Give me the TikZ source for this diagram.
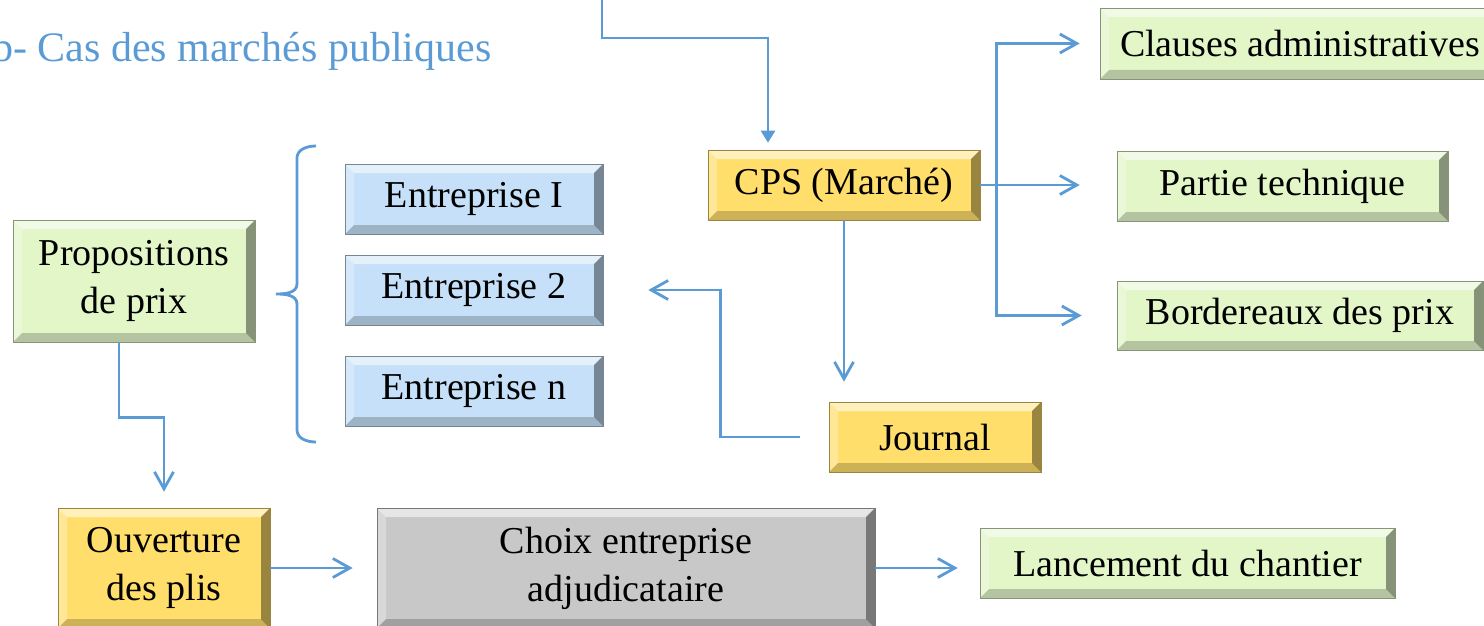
\documentclass[tikz,border=0pt]{standalone}
\usepackage{fontspec}
\setmainfont{Liberation Serif}
\usepackage{xcolor}
\usepackage{tikz}
\usetikzlibrary{arrows.meta}

\definecolor{lienbleu}{RGB}{91,155,213}
\definecolor{vertclair}{RGB}{226,246,200}
\definecolor{bleuclair}{RGB}{197,224,248}
\definecolor{jaune}{RGB}{255,222,108}
\definecolor{gris}{RGB}{200,200,200}

\begin{document}
\begin{tikzpicture}[x = 1pt, y = -1pt,
	lien/.style = {draw = lienbleu, line width = 2.8pt},
	fleche/.style = {lien, -{Straight Barb[length = 17pt, width = 19pt]}},
	boite/.style = {fill = #1, draw = #1!60!black, line width = 0.6pt, align = center, inner sep = 0pt,
		font = \fontsize{38}{48}\selectfont,
		path picture = {
			\fill[white, opacity = 0.55] (path picture bounding box.north west) -- (path picture bounding box.north east)
				-- ([shift = {(-9,9)}]path picture bounding box.north east) -- ([shift = {(9,9)}]path picture bounding box.north west) -- cycle;
			\fill[white, opacity = 0.3] (path picture bounding box.north west) -- ([shift = {(9,9)}]path picture bounding box.north west)
				-- ([shift = {(9,-9)}]path picture bounding box.south west) -- (path picture bounding box.south west) -- cycle;
			\fill[black, opacity = 0.4] (path picture bounding box.north east) -- (path picture bounding box.south east)
				-- ([shift = {(-9,-9)}]path picture bounding box.south east) -- ([shift = {(-9,9)}]path picture bounding box.north east) -- cycle;
			\fill[black, opacity = 0.2] (path picture bounding box.south west) -- (path picture bounding box.south east)
				-- ([shift = {(-9,-9)}]path picture bounding box.south east) -- ([shift = {(9,-9)}]path picture bounding box.south west) -- cycle;}}]
	\useasboundingbox (0,0) rectangle (1484,626);
	\clip (0,0) rectangle (1484,626);

	\node[anchor = base west, text = lienbleu, font = \fontsize{42}{48}\selectfont, inner sep = 0pt] (titre) at (-8,62) {b- Cas des marchés publiques};

	\node[boite = jaune, minimum width = 272pt, minimum height = 70pt] (cps) at (844,185) {CPS (Marché)};
	\node[boite = vertclair, minimum width = 400pt, minimum height = 71pt] (clauses) at (1300,43.5) {Clauses administratives};
	\node[boite = vertclair, minimum width = 331pt, minimum height = 70pt] (partie) at (1282.5,186) {Partie technique};
	\node[boite = vertclair, minimum width = 366pt, minimum height = 69pt] (bordereaux) at (1300,315.5) {Bordereaux des prix};
	\node[boite = jaune, minimum width = 212pt, minimum height = 70pt] (journal) at (935,437) {Journal};
	\foreach \y/\nom/\txt in {199/e1/Entreprise I, 290/e2/Entreprise 2, 391/en/Entreprise n}{
		\node[boite = bleuclair, minimum width = 258pt, minimum height = 70pt] (\nom) at (474,\y) {\txt};}
	\node[boite = vertclair, minimum width = 242pt, minimum height = 122pt] (prop) at (134,281) {Propositions\\de prix};
	\node[boite = jaune, minimum width = 212pt, minimum height = 120pt] (ouv) at (164,568) {Ouverture\\des plis};
	\node[boite = gris, minimum width = 498pt, minimum height = 120pt] (choix) at (626,568) {Choix entreprise\\adjudicataire};
	\node[boite = vertclair, minimum width = 415pt, minimum height = 70pt] (lanc) at (1187.5,563) {Lancement du chantier};

	\coordinate (entree) at (602,-5);
	\draw[lien, -{Triangle[length = 12pt, width = 14pt]}, shorten >= 7pt] (entree) -- (602,38) -| ([xshift = -76pt]cps.north);
	\draw[fleche, shorten >= 37pt] (cps.east) -- (cps.east -| partie.west);
	\draw[fleche, shorten >= 20pt] ([xshift = 16pt]cps.east) |- (clauses.west);
	\draw[fleche, shorten >= 35pt] ([xshift = 16pt]cps.east) |- (bordereaux.west);
	\draw[fleche, shorten >= 20pt] (cps.south) -- (cps.south |- journal.north);
	\draw[fleche, shorten >= 45pt] ([xshift = -29pt]journal.west) -- ++(-79,0) |- (e2.east);
	\draw[lien] (316,146) to[out = 180, in = 90] (297,158) -- (297,284) to[out = -90, in = 0] (276,294)
		to[out = 0, in = 90] (297,304) -- (297,430) to[out = -90, in = 180] (316,442);
	\draw[fleche, shorten >= 16pt] ([xshift = -15pt]prop.south) -- ++(0,75) -| (ouv.north);
	\draw[fleche, shorten >= 24pt] (ouv.east) -- (choix.west);
	\draw[fleche, shorten >= 22pt] (choix.east) -- (choix.east -| lanc.west);
\end{tikzpicture}
\end{document}
